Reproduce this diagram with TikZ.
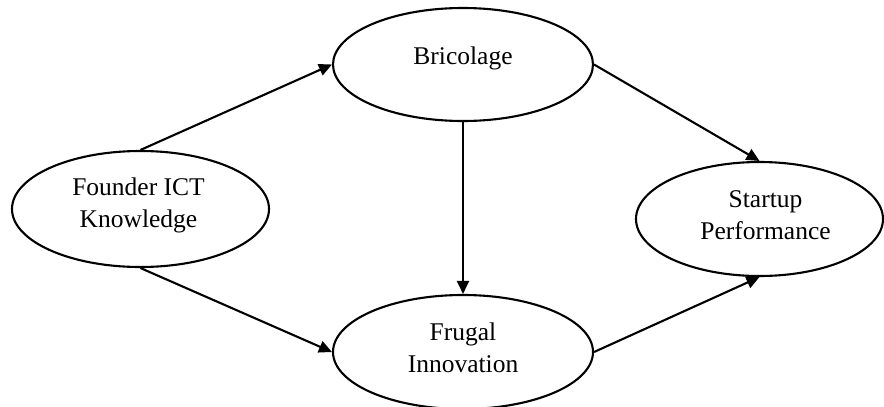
\documentclass[tikz,border=0pt]{standalone}
\usepackage{fontspec}
\setmainfont{Liberation Serif}
\usetikzlibrary{arrows.meta,shapes.geometric}
\begin{document}
\begin{tikzpicture}[x=1pt,y=-1pt,
  ell/.style={draw=black,line width=2.1pt,ellipse,inner sep=0pt},
  lbl/.style={align=center,inner sep=0pt,font=\fontsize{25.5}{32}\selectfont},
  conn/.style={draw=black,line width=2.1pt,-{Triangle[length=13pt,width=12pt]}}]
\useasboundingbox (0,0) rectangle (884,407);
\fill[white] (0,0) rectangle (884,407);
% ellipses
\node[ell,minimum width=257pt,minimum height=116pt] (fou) at (140.5,209) {};
\node[ell,minimum width=260pt,minimum height=113pt] (bri) at (463,64.5) {};
\node[ell,minimum width=260pt,minimum height=114pt] (fru) at (463,352) {};
\node[ell,minimum width=247pt,minimum height=114pt] (sta) at (759.5,219) {};
% texts
\node[lbl] (fout) at ([xshift=-2pt,yshift=4pt]fou.center) {Founder ICT\\Knowledge};
\node[lbl] (brit) at ([yshift=6.5pt]bri.center) {Bricolage};
\node[lbl] (frut) at ([yshift=4pt]fru.center) {Frugal\\Innovation};
\node[lbl] (stat) at ([xshift=6pt,yshift=4pt]sta.center) {Startup\\Performance};
% connectors
\draw[conn] (fou.north) -- (bri.west);
\draw[conn] (fou.south) -- (fru.west);
\draw[conn] (bri.south) -- (fru.north);
\draw[conn] (bri.east) -- (sta.north);
\draw[conn] (fru.east) -- (sta.south);
\end{tikzpicture}
\end{document}
